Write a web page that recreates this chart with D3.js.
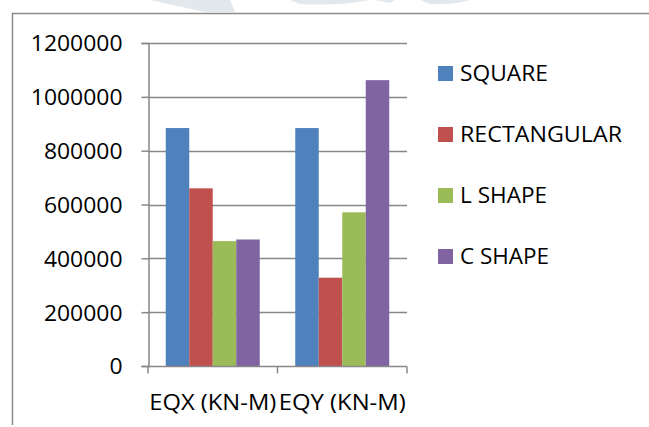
<!DOCTYPE html>
<html>
<head>
<meta charset="utf-8">
<script src="https://cdn.jsdelivr.net/npm/d3@7"></script>
<style>
  html, body { margin: 0; padding: 0; background: #ffffff; }
  svg { display: block; }
  text { font-family: "Open Sans", "Noto Sans", sans-serif; fill: #000; }
</style>
</head>
<body>
<svg id="chart" width="649" height="427"></svg>
<script>
// Moments by plan shape
const categories = ["EQX (KN-M)", "EQY (KN-M)"];
const seriesNames = ["SQUARE", "RECTANGULAR", "L SHAPE", "C SHAPE"];
const seriesColors = ["#4f81bd", "#c0504d", "#9bbb59", "#8064a2"];
const squareValues = [884000, 884000];
const rectangularValues = [660000, 328000];
const lShapeValues = [464000, 571000];
const cShapeValues = [470000, 1062000];
const yTicks = [0, 200000, 400000, 600000, 800000, 1000000, 1200000];

const seriesValues = [squareValues, rectangularValues, lShapeValues, cShapeValues];

// rendered widths of the legend labels
const legendWidths = [88, 162, 87, 89];

const svg = d3.select("#chart");
const W = 649, H = 427;

// faint background decoration in the top margin
const deco = svg.append("g").attr("fill", "#e3e8ec");
deco.append("path").attr("d", "M150,0 L230,0 L235,12 L205,12 Z");
deco.append("path").attr("d", "M290,0 L370,0 Q340,6 300,4 Z");
deco.append("path").attr("d", "M375,0 L395,0 L390,3 Z");
deco.append("path").attr("d", "M420,0 L470,0 Q455,5 430,4 Z");

// outer frame (left and top edges)
svg.append("path")
  .attr("d", `M12.5,425 L12.5,13.5 L${W},13.5`)
  .attr("fill", "none")
  .attr("stroke", "#8a8a8a")
  .attr("stroke-width", 1.5);

const plot = { left: 148, right: 407, top: 43, bottom: 366 };

const y = d3.scaleLinear().domain([0, 1200000]).range([plot.bottom, plot.top]);
const x0 = d3.scaleBand().domain(categories).range([plot.left, plot.right]).paddingInner(0).paddingOuter(0);
// bars fill 94/129.5 of each category band
const inner = 0.5 * (1 - 94 / 129.5);
const x1 = d3.scaleBand().domain(seriesNames)
  .range([x0.bandwidth() * inner, x0.bandwidth() * (1 - inner)]).padding(0);

const gridColor = "#888888";

// horizontal gridlines
svg.append("g").selectAll("line")
  .data(yTicks.filter(d => d > 0))
  .join("line")
  .attr("x1", plot.left).attr("x2", plot.right)
  .attr("y1", d => Math.round(y(d)) + 0.5).attr("y2", d => Math.round(y(d)) + 0.5)
  .attr("stroke", gridColor).attr("stroke-width", 1.5);

// bars
const groups = svg.append("g").selectAll("g")
  .data(categories)
  .join("g")
  .attr("transform", d => `translate(${x0(d)},0)`);

groups.selectAll("rect")
  .data((c, ci) => seriesNames.map((s, si) => ({ s, si, v: seriesValues[si][ci] })))
  .join("rect")
  .attr("x", d => x1(d.s))
  .attr("width", x1.bandwidth())
  .attr("y", d => y(d.v))
  .attr("height", d => y(0) - y(d.v))
  .attr("fill", d => seriesColors[d.si]);

// y axis
const yAxis = d3.axisLeft(y).tickValues(yTicks).tickSize(7).tickPadding(19).tickFormat(d3.format("d"));
const gy = svg.append("g").attr("transform", `translate(${plot.left + 0.5},0)`).call(yAxis);
gy.select(".domain").attr("stroke", gridColor).attr("stroke-width", 1.5);
gy.selectAll(".tick line").attr("stroke", gridColor).attr("stroke-width", 1.5);
gy.selectAll(".tick text")
  .attr("font-size", 22)
  .attr("font-family", "'Open Sans', sans-serif")
  .attr("fill", "#000")
  .attr("dy", "0.36em")
  .attr("textLength", d => String(d).length * 13.1)
  .attr("lengthAdjust", "spacingAndGlyphs");

// x axis with tick marks at category boundaries
const xAxisG = svg.append("g").attr("transform", `translate(0,${plot.bottom + 0.5})`);
xAxisG.append("line")
  .attr("x1", plot.left).attr("x2", plot.right)
  .attr("stroke", gridColor).attr("stroke-width", 1.5);
xAxisG.selectAll("line.tk")
  .data([plot.left, x0(categories[1]), plot.right])
  .join("line").attr("class", "tk")
  .attr("x1", d => d).attr("x2", d => d)
  .attr("y1", 0).attr("y2", 7)
  .attr("stroke", gridColor).attr("stroke-width", 1.5);
xAxisG.selectAll("text")
  .data(categories)
  .join("text")
  .attr("x", d => x0(d) + x0.bandwidth() / 2)
  .attr("y", 43)
  .attr("text-anchor", "middle")
  .attr("font-size", 22)
  .attr("textLength", 127)
  .attr("lengthAdjust", "spacingAndGlyphs")
  .text(d => d);

// legend
const legend = svg.append("g").attr("transform", "translate(438,66)");
const rows = legend.selectAll("g")
  .data(seriesNames)
  .join("g")
  .attr("transform", (d, i) => `translate(0,${i * 61})`);
rows.append("rect")
  .attr("width", 15).attr("height", 15)
  .attr("fill", (d, i) => seriesColors[i]);
rows.append("text")
  .attr("x", 22).attr("y", 7.5).attr("dy", "0.36em")
  .attr("font-size", 22)
  .attr("textLength", (d, i) => legendWidths[i])
  .attr("lengthAdjust", "spacingAndGlyphs")
  .text(d => d);
</script>
</body>
</html>
